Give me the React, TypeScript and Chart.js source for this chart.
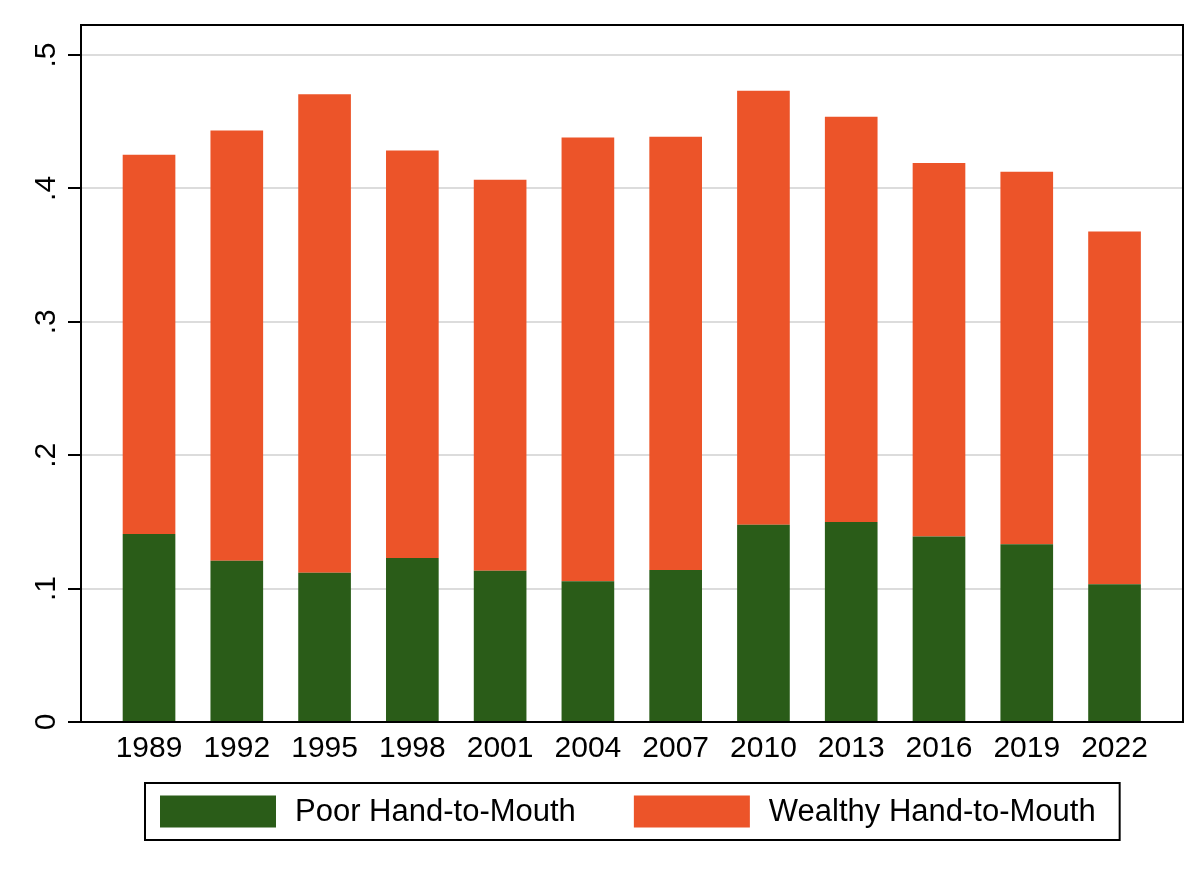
import React, { useEffect, useRef } from 'react';
import { Chart, registerables } from 'chart.js';

Chart.register(...registerables);

// ---- Data ----
const years = ['1989', '1992', '1995', '1998', '2001', '2004', '2007', '2010', '2013', '2016', '2019', '2022'];
const poorHtM = [0.141, 0.1208, 0.1118, 0.123, 0.1133, 0.1055, 0.114, 0.1478, 0.15, 0.139, 0.1333, 0.1033];
const wealthyHtM = [0.2843, 0.3227, 0.3587, 0.3055, 0.2932, 0.3327, 0.3248, 0.3255, 0.3038, 0.28, 0.2792, 0.2644];
const yTickValues = [0, 0.1, 0.2, 0.3, 0.4, 0.5];
const yTickLabels = ['0', '.1', '.2', '.3', '.4', '.5'];
const seriesLabels = ['Poor Hand-to-Mouth', 'Wealthy Hand-to-Mouth'];
const seriesColors = ['#2a5c18', '#ec5429'];

const FONT = "'Liberation Sans', Arial, Helvetica, sans-serif";

const bgPlugin = {
  id: 'bg',
  beforeDraw(chart: any) {
    const { ctx, width, height } = chart;
    ctx.save();
    ctx.fillStyle = '#ffffff';
    ctx.fillRect(0, 0, width, height);
    ctx.restore();
  },
};

const framePlugin = {
  id: 'frame',
  afterDraw(chart: any) {
    const { ctx, chartArea: a } = chart;
    ctx.save();
    ctx.strokeStyle = '#000';
    ctx.lineWidth = 2;
    ctx.beginPath();
    ctx.moveTo(a.left, a.top);
    ctx.lineTo(a.right, a.top);
    ctx.lineTo(a.right, a.bottom);
    ctx.stroke();
    ctx.restore();
  },
};

const legendPlugin = {
  id: 'stataLegend',
  afterDraw(chart: any) {
    const { ctx, chartArea: a } = chart;
    ctx.save();
    ctx.font = `31px ${FONT}`;
    const swW = 116, swH = 32, txtGap = 19, itemGap = 58, padL = 15, padR = 24, boxH = 57;
    const items = chart.data.datasets.map((ds: any) => ({
      text: ds.label as string,
      color: ds.backgroundColor as string,
      w: ctx.measureText(ds.label).width,
    }));
    let total = padL + padR;
    items.forEach((it: any, i: number) => {
      total += swW + txtGap + it.w + (i > 0 ? itemGap : 0);
    });
    const cx = (a.left + a.right) / 2;
    const left = Math.round(cx - total / 2);
    const top = a.bottom + 61;
    ctx.fillStyle = '#fff';
    ctx.fillRect(left, top, total, boxH);
    ctx.strokeStyle = '#000';
    ctx.lineWidth = 2;
    ctx.strokeRect(left, top, total, boxH);
    const cy = top + boxH / 2;
    let x = left + padL;
    items.forEach((it: any) => {
      ctx.fillStyle = it.color;
      ctx.fillRect(x, cy - swH / 2, swW, swH);
      x += swW + txtGap;
      ctx.fillStyle = '#000';
      ctx.textAlign = 'left';
      ctx.textBaseline = 'middle';
      ctx.fillText(it.text, x, cy + 1);
      x += it.w + itemGap;
    });
    ctx.restore();
  },
};

export default function App() {
  const ref = useRef<HTMLCanvasElement>(null);

  useEffect(() => {
    if (!ref.current) return;
    const chart = new Chart(ref.current, {
      type: 'bar',
      data: {
        datasets: [
          {
            label: seriesLabels[0],
            data: years.map((_, i) => ({ x: i, y: poorHtM[i] })),
            backgroundColor: seriesColors[0],
            borderWidth: 0,
            categoryPercentage: 1,
            barPercentage: 0.6,
          },
          {
            label: seriesLabels[1],
            data: years.map((_, i) => ({ x: i, y: wealthyHtM[i] })),
            backgroundColor: seriesColors[1],
            borderWidth: 0,
            categoryPercentage: 1,
            barPercentage: 0.6,
          },
        ],
      },
      options: {
        responsive: false,
        animation: false,
        devicePixelRatio: 1,
        layout: { padding: { top: 17, right: 9, left: 0, bottom: 79 } },
        plugins: {
          legend: { display: false },
          tooltip: { enabled: false },
        },
        scales: {
          x: {
            type: 'linear',
            stacked: true,
            offset: false,
            min: -0.775,
            max: 11.78,
            grid: { display: false, drawTicks: false, offset: false },
            border: { display: true, color: '#000', width: 2 },
            afterBuildTicks: (axis: any) => {
              axis.ticks = years.map((_, i) => ({ value: i }));
            },
            afterFit: (scale: any) => {
              scale.height = 60;
              scale.paddingLeft = 0;
              scale.paddingRight = 0;
            },
            ticks: {
              color: '#000',
              font: { family: FONT, size: 30 },
              padding: 9,
              maxRotation: 0,
              minRotation: 0,
              autoSkip: false,
              callback: (v: any) => years[Math.round(Number(v))] ?? '',
            },
          },
          y: {
            type: 'linear',
            stacked: true,
            min: 0,
            max: 0.5225,
            afterBuildTicks: (axis: any) => {
              axis.ticks = yTickValues.map((v) => ({ value: v }));
            },
            afterFit: (scale: any) => {
              scale.width = 73;
              scale.paddingTop = 0;
              scale.paddingBottom = 0;
            },
            grid: {
              color: '#dcdcdc',
              lineWidth: 2,
              drawTicks: true,
              tickLength: 13,
              tickColor: '#000',
              tickWidth: 2,
            },
            border: { display: true, color: '#000', width: 2 },
            ticks: {
              color: '#000',
              font: { family: FONT, size: 30 },
              padding: 9,
              minRotation: 90,
              maxRotation: 90,
              crossAlign: 'center',
              autoSkip: false,
              callback: (v: any) => {
                const idx = yTickValues.findIndex((t) => Math.abs(t - Number(v)) < 1e-9);
                return idx >= 0 ? yTickLabels[idx] : '';
              },
            },
          },
        },
      },
      plugins: [bgPlugin, framePlugin, legendPlugin],
    } as any);
    return () => chart.destroy();
  }, []);

  return (
    <div style={{ width: 1184, height: 853 }}>
      <canvas ref={ref} width={1184} height={853} style={{ display: 'block' }} />
    </div>
  );
}
